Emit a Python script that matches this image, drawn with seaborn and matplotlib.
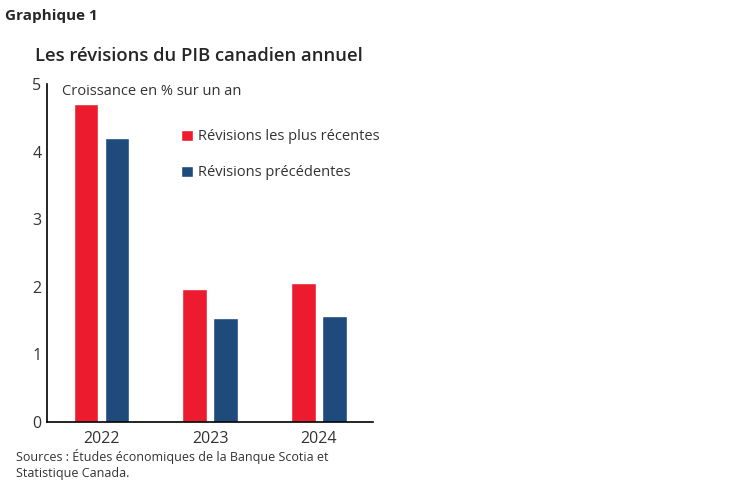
import pandas as pd
import matplotlib
matplotlib.use("Agg")
import matplotlib.pyplot as plt
import seaborn as sns

# values
years = ["2022", "2023", "2024"]
recent = [4.70, 1.96, 2.05]
previous = [4.20, 1.54, 1.56]
series_names = ["Révisions les plus récentes", "Révisions précédentes"]
colors = ["#EC1C2E", "#1F4A7C"]

df = pd.DataFrame({
    "year": years * 2,
    "value": recent + previous,
    "series": [series_names[0]] * 3 + [series_names[1]] * 3,
})

sns.set_style("white")
plt.rcParams["font.family"] = ["Open Sans", "DejaVu Sans"]

fig = plt.figure(figsize=(7.48, 4.83), dpi=100)
ax = fig.add_axes([0.063, 0.127, 0.436, 0.699])

sns.barplot(data=df, x="year", y="value", hue="series", hue_order=series_names,
            palette=colors, width=0.57, gap=0.2, saturation=1, ax=ax)

ax.set_xlim(-0.5, 2.5)
ax.set_ylim(0, 5)
ax.set_yticks(range(0, 6))
ax.set_xlabel("")
ax.set_ylabel("")
for s in ["top", "right"]:
    ax.spines[s].set_visible(False)
for s in ["left", "bottom"]:
    ax.spines[s].set_color("black")
    ax.spines[s].set_linewidth(1.2)

ax.tick_params(axis="y", direction="in", length=4, width=1, labelsize=11.5,
               labelcolor="#333333", pad=4)
ax.tick_params(axis="x", which="major", length=0, labelsize=11.5,
               labelcolor="#333333", pad=7)
ax.set_xticks([-0.5, 0.5, 1.5, 2.5], minor=True)
ax.tick_params(axis="x", which="minor", direction="out", length=5, width=1)

ax.legend(loc="upper left", bbox_to_anchor=(0.37, 0.905), frameon=False,
          fontsize=10.5, handlelength=0.8, handleheight=0.8, handletextpad=0.4,
          labelspacing=1.45, labelcolor="#333333")

ax.text(0.045, 1.0, "Croissance en % sur un an", transform=ax.transAxes,
        fontsize=10.5, color="#333333", va="top")

fig.text(0.007, 0.967, "Graphique 1", fontsize=11, fontweight="bold", va="center")
fig.text(0.047, 0.885, "Les révisions du PIB canadien annuel", fontsize=13.3,
         fontweight="semibold", va="center")
fig.text(0.022, 0.071, "Sources : Études économiques de la Banque Scotia et\nStatistique Canada.",
         fontsize=9, color="#333333", va="top", linespacing=1.35)

fig.savefig("out.png", dpi=100)
